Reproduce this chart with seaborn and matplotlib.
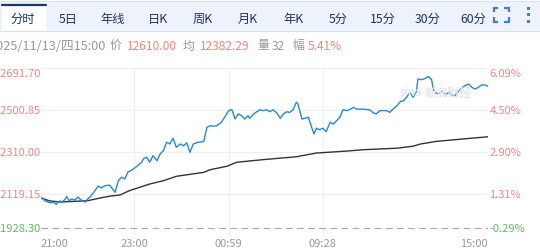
import matplotlib
matplotlib.use("Agg")
import matplotlib.pyplot as plt
import seaborn as sns
import pandas as pd
from matplotlib.patches import Rectangle
from matplotlib.lines import Line2D

# ---------------- data ----------------
price_minute = [0, 2, 5, 9, 11, 15, 19, 21, 24, 26, 29, 32, 35, 38, 42, 46, 48, 52, 55, 58,
                62, 67, 71, 75, 79, 85, 87, 92, 96, 100, 104, 108, 112, 116, 120, 125, 127, 131,
                135, 139, 144, 148, 152, 156, 160, 164, 168, 173, 177, 181, 185, 189, 195, 202,
                206, 210, 214, 218, 224, 228, 233, 237, 241, 245, 249, 253, 257, 259, 264, 268,
                272, 276, 280, 284, 288, 293, 297, 301, 305, 309, 313, 317, 319, 324, 328, 332,
                336, 339, 342, 346, 350, 354, 359, 363, 367, 371, 375, 380, 384, 388, 392, 400,
                408, 413, 416, 421, 429, 433, 437, 442, 446, 450, 454, 458, 462, 466, 468, 473,
                477, 481, 485, 487, 489, 493, 498, 502, 506, 510, 514, 518, 522, 526, 531, 535,
                539, 543, 547, 551, 555]
price = [12097, 12101, 12088, 12083, 12079, 12083, 12072, 12083, 12088, 12083, 12092, 12108,
         12088, 12097, 12092, 12106, 12097, 12088, 12083, 12097, 12110, 12135, 12156, 12147,
         12157, 12160, 12151, 12127, 12180, 12196, 12188, 12220, 12226, 12237, 12248, 12264,
         12279, 12287, 12264, 12294, 12271, 12302, 12317, 12355, 12347, 12373, 12332, 12347,
         12339, 12352, 12309, 12347, 12355, 12358, 12423, 12430, 12428, 12430, 12446, 12469,
         12499, 12503, 12461, 12484, 12476, 12461, 12476, 12464, 12484, 12494, 12503, 12499,
         12503, 12494, 12503, 12488, 12464, 12484, 12494, 12491, 12503, 12537, 12529, 12461,
         12464, 12469, 12423, 12393, 12419, 12412, 12419, 12403, 12446, 12438, 12453, 12469,
         12503, 12499, 12505, 12514, 12506, 12506, 12503, 12488, 12484, 12499, 12499, 12491,
         12506, 12521, 12540, 12544, 12560, 12582, 12560, 12582, 12643, 12640, 12646, 12655,
         12640, 12597, 12582, 12575, 12585, 12570, 12582, 12570, 12567, 12585, 12601, 12612,
         12620, 12605, 12597, 12605, 12616, 12616, 12610]

avg_minute = [0, 11, 24, 36, 58, 73, 86, 98, 110, 135, 152, 168, 202, 210, 231, 243, 276,
              317, 342, 380, 400, 442, 462, 471, 491, 524, 555]
avg_price = [12101, 12088, 12083, 12085, 12089, 12101, 12110, 12115, 12135, 12165, 12180,
             12200, 12218, 12230, 12246, 12264, 12276, 12289, 12306, 12315, 12321, 12328,
             12337, 12347, 12359, 12370, 12380]

prev_close = 11963.1
left_ticks = [12691.70, 12500.85, 12310.00, 12119.15]
left_labels = ["12691.70", "12500.85", "12310.00", "12119.15"]
right_labels = ["6.09%", "4.50%", "2.90%", "1.31%"]
bottom_value = 11928.30
bottom_left_label = "11928.30"
bottom_right_label = "-0.29%"

x_tick_pos = [0, 116, 233, 350, 555]
x_tick_labels = ["21:00", "23:00", "00:59", "09:28", "15:00"]

tabs = ["分时", "5日", "年线", "日K", "周K", "月K", "年K", "5分", "15分", "30分", "60分"]

info_parts = [("2025/11/13/四15:00", "#999999"), ("价", "#999999"), ("12610.00", "#f5857c"),
              ("均", "#999999"), ("12382.29", "#f5857c"), ("量", "#999999"), ("32", "#999999"),
              ("幅", "#999999"), ("5.41%", "#f5857c")]

# ---------------- style ----------------
sns.set_style("white")
plt.rcParams["font.family"] = ["Noto Sans CJK SC", "DejaVu Sans"]

W, H = 540, 251
fig = plt.figure(figsize=(W / 100, H / 100), dpi=100)


def fx(x):
    return x / W


def fy(y):
    return 1 - y / H


# ---------------- tab bar ----------------
fig.patches.append(Rectangle((0, fy(32)), 1, fy(1.5) - fy(32), transform=fig.transFigure,
                             facecolor="#eef3fb", edgecolor="none", zorder=0))
fig.lines.append(Line2D([0, 1], [fy(1.5), fy(1.5)], transform=fig.transFigure,
                        color="#d9e3f1", lw=0.8))
fig.lines.append(Line2D([0, 1], [fy(32), fy(32)], transform=fig.transFigure,
                        color="#d6e0f0", lw=0.8))
fig.patches.append(Rectangle((fx(2), fy(32.5)), fx(44), fy(5) - fy(32.5), transform=fig.transFigure,
                             facecolor="white", edgecolor="none", zorder=1))
fig.lines.append(Line2D([fx(2), fx(46)], [fy(5.8), fy(5.8)], transform=fig.transFigure,
                        color="#1b3470", lw=1.6, zorder=2))
for i, t in enumerate(tabs):
    fig.text(fx(23 + 45 * i), fy(19.5), t, ha="center", va="center", fontsize=8.8,
             color="#1d3563", zorder=3)

# full-screen icon
ic = "#3b7fd6"
x0, x1, y0, y1, a = 493.5, 508.5, 8.5, 22.5, 4.5
for (cx, cy, dx, dy) in [(x0, y0, 1, 1), (x1, y0, -1, 1), (x0, y1, 1, -1), (x1, y1, -1, -1)]:
    fig.lines.append(Line2D([fx(cx + dx * a), fx(cx), fx(cx)], [fy(cy), fy(cy), fy(cy + dy * a)],
                            transform=fig.transFigure, color=ic, lw=1.6,
                            solid_joinstyle="miter", solid_capstyle="butt"))
for yy in (9, 15.5, 22):
    fig.patches.append(Rectangle((fx(526.5), fy(yy + 1.5)), fx(3), fy(0) - fy(3),
                                 transform=fig.transFigure, facecolor=ic, edgecolor="none"))

# ---------------- info line ----------------
info_x = [106, 110, 127, 183, 200, 257, 272, 292, 308]
for (txt, col), xx in zip(info_parts, info_x):
    ha = "right" if xx == 106 else "left"
    fs = 9.2 if xx == 106 else 8.6
    fig.text(fx(xx), fy(46), txt, ha=ha, va="center", fontsize=fs, color=col)

# ---------------- chart ----------------
ax = fig.add_axes([fx(41), fy(237), fx(488) - fx(41), fy(69.3) - fy(237)])
ax.set_xlim(0, 555)
ax.set_ylim(bottom_value, left_ticks[0])
for s in ax.spines.values():
    s.set_visible(False)

for v in left_ticks:
    ax.axhline(v, color="#efefef", lw=0.8, zorder=0)
for xp in x_tick_pos[1:-1]:
    ax.axvline(xp, color="#efefef", lw=0.8, zorder=0)
ax.axhline(prev_close, color="#a6a6a6", lw=0.8, ls=(0, (6, 4)), zorder=1)

df_p = pd.DataFrame({"m": price_minute, "v": price})
df_a = pd.DataFrame({"m": avg_minute, "v": avg_price})
sns.lineplot(data=df_a, x="m", y="v", ax=ax, color="#333333", lw=1.0, zorder=3)
sns.lineplot(data=df_p, x="m", y="v", ax=ax, color="#2589d8", lw=1.0, zorder=4)
ax.set_xlabel("")
ax.set_ylabel("")

ax.set_yticks([])
ax.set_xticks(x_tick_pos)
ax.set_xticklabels(x_tick_labels, fontsize=8, color="#999999")
ax.tick_params(axis="x", length=0, pad=1.5)
labs = ax.get_xticklabels()
labs[0].set_ha("left")
labs[-1].set_ha("right")

red = "#f5857c"
green = "#5cbf5c"
tr_l = ax.get_yaxis_transform()
for i, (v, ll, rl) in enumerate(zip(left_ticks, left_labels, right_labels)):
    va = "top" if i == 0 else "center"
    ax.text(-0.001, v, ll, transform=tr_l, ha="right", va=va, fontsize=8, color=red, clip_on=False)
    ax.text(1.003, v, rl, transform=tr_l, ha="left", va=va, fontsize=8, color=red, clip_on=False)
ax.text(-0.001, prev_close, bottom_left_label, transform=tr_l, ha="right", va="center",
        fontsize=8, color=green, clip_on=False)
ax.text(1.003, prev_close, bottom_right_label, transform=tr_l, ha="left", va="center",
        fontsize=8, color=green, clip_on=False)

# faint watermark
fig.text(fx(400), fy(93), "sina", fontsize=8, color="#e6e6e6", fontweight="bold",
         style="italic", va="center", ha="left", zorder=0)
fig.text(fx(425), fy(93), "新浪财经", fontsize=8.5, color="#e6e6e6", fontweight="bold",
         va="center", ha="left", zorder=0)

fig.savefig("out.png", dpi=100)
